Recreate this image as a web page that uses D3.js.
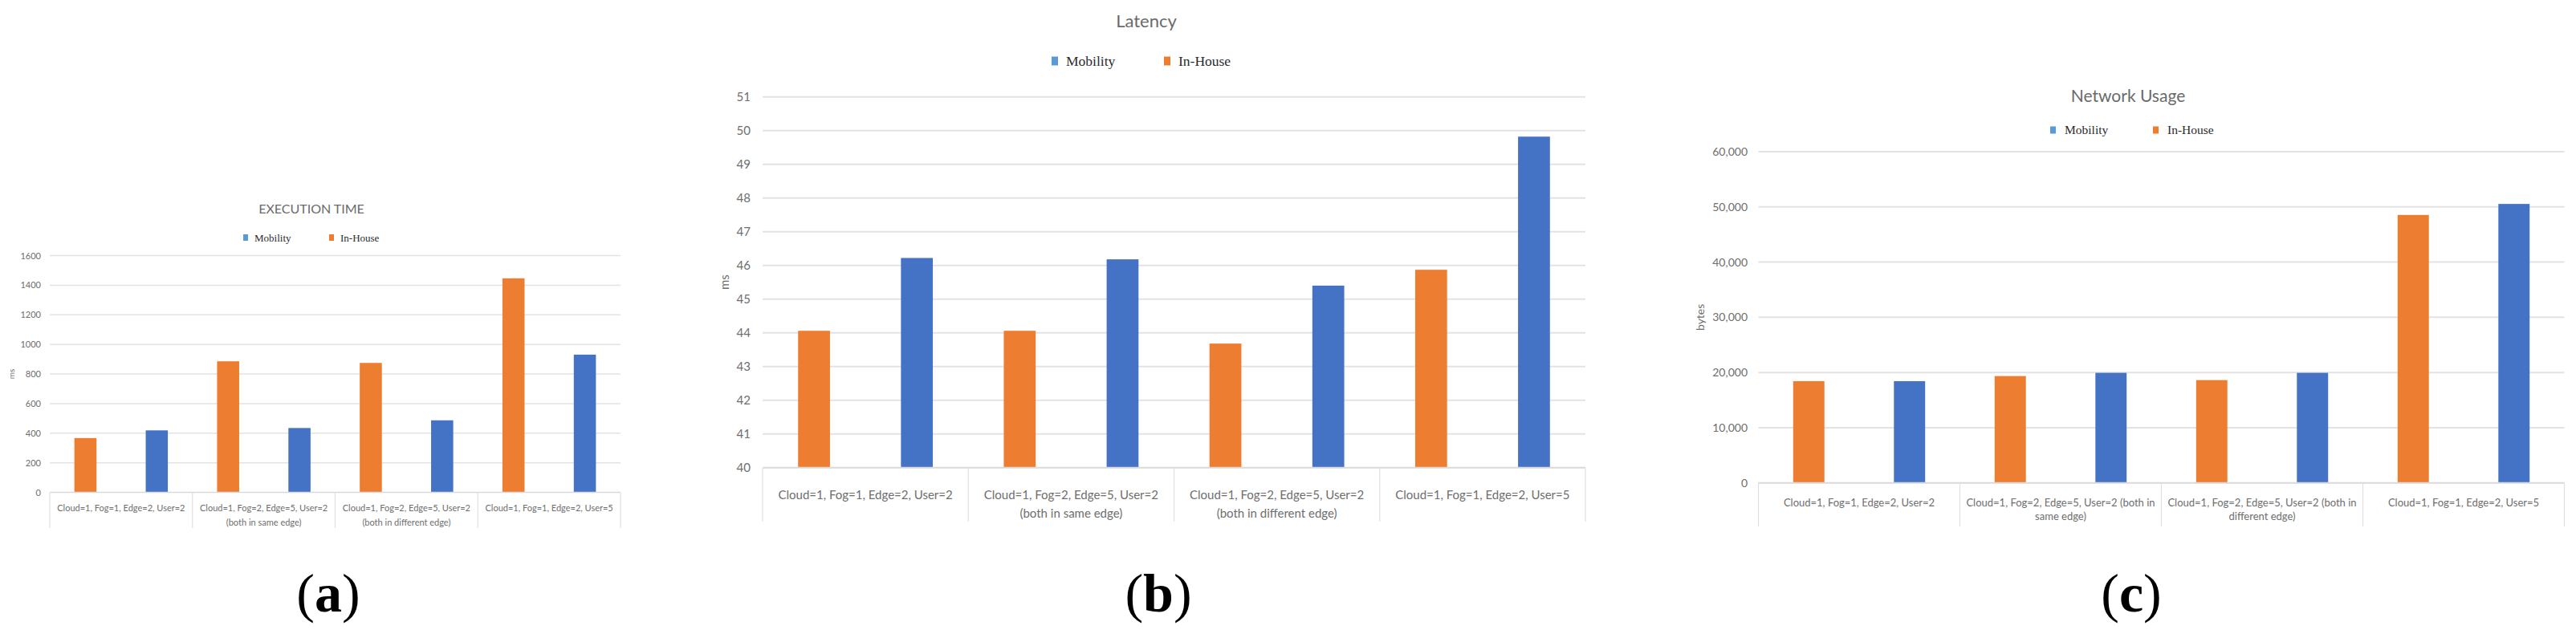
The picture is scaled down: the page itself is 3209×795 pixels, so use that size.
<!DOCTYPE html>
<html>
<head>
<meta charset="utf-8">
<script src="https://cdn.jsdelivr.net/npm/d3@7"></script>
<style>
  body { margin: 0; background: #fff; }
  svg { display: block; }
</style>
</head>
<body>
<svg id="fig" width="3209" height="795"></svg>
<script>
// categories (same four scenarios in each panel)
const categories = [
  "Cloud=1, Fog=1, Edge=2, User=2",
  "Cloud=1, Fog=2, Edge=5, User=2 (both in same edge)",
  "Cloud=1, Fog=2, Edge=5, User=2 (both in different edge)",
  "Cloud=1, Fog=1, Edge=2, User=5"
];
// how the labels wrap in panels a/b and in panel c
const labelLinesAB = [
  ["Cloud=1, Fog=1, Edge=2, User=2"],
  ["Cloud=1, Fog=2, Edge=5, User=2", "(both in same edge)"],
  ["Cloud=1, Fog=2, Edge=5, User=2", "(both in different edge)"],
  ["Cloud=1, Fog=1, Edge=2, User=5"]
];
const labelLinesC = [
  ["Cloud=1, Fog=1, Edge=2, User=2"],
  ["Cloud=1, Fog=2, Edge=5, User=2 (both in", "same edge)"],
  ["Cloud=1, Fog=2, Edge=5, User=2 (both in", "different edge)"],
  ["Cloud=1, Fog=1, Edge=2, User=5"]
];
const barOrder = ["In-House", "Mobility"];
const legendOrder = ["Mobility", "In-House"];

// (a) execution time, ms
const execInHouse = [367, 886, 875, 1447];
const execMobility = [419, 435, 487, 931];
const execTicks = [0, 200, 400, 600, 800, 1000, 1200, 1400, 1600];

// (b) latency, ms
const latInHouse = [44.06, 44.06, 43.68, 45.87];
const latMobility = [46.22, 46.18, 45.40, 49.82];
const latTicks = [40, 41, 42, 43, 44, 45, 46, 47, 48, 49, 50, 51];

// (c) network usage, bytes
const netInHouse = [18430, 19350, 18620, 48540];
const netMobility = [18430, 19930, 19930, 50530];
const netTicks = [0, 10000, 20000, 30000, 40000, 50000, 60000];

const barColor = {"In-House": "#ED7D31", "Mobility": "#4472C4"};
const keyColor = {"In-House": "#ED7D31", "Mobility": "#5B9BD5"};
const SANS = "Lato, 'Open Sans', sans-serif";
const SERIF = "'Liberation Serif', 'DejaVu Serif', serif";

const svg = d3.select("#fig");
svg.append("rect").attr("width", 3209).attr("height", 795).attr("fill", "#fff");

function drawPanel(p) {
    let g = svg.append("g");

    let x0 = d3.scaleBand().domain(categories).range([p.left, p.right]);
    let x1 = d3.scalePoint().domain(barOrder).range([0, x0.bandwidth()]).padding(0.5);
    let y = d3.scaleLinear().domain([p.ticks[0], p.ticks[p.ticks.length - 1]]).range([p.bottom, p.top]);
    let barW = x0.bandwidth() * 0.155;

    // gridlines
    g.selectAll("line.grid")
        .data(p.ticks.slice(1))
        .join("line")
        .attr("x1", p.left).attr("x2", p.right)
        .attr("y1", d => y(d)).attr("y2", d => y(d))
        .attr("stroke", "#e3e3e3")
        .attr("stroke-width", p.gridW);

    // y axis labels
    let yAxis = d3.axisLeft(y).tickValues(p.ticks).tickSize(0).tickPadding(0).tickFormat(p.fmt);
    g.append("g")
        .attr("transform", `translate(${p.tickX},0)`)
        .call(yAxis)
        .call(a => a.select(".domain").remove())
        .selectAll("text")
        .attr("fill", "#6e6e6e")
        .attr("font-family", SANS)
        .attr("font-size", p.tickFont);

    // bars
    let rows = categories.map((c, i) => ({cat: c, "In-House": p.inHouse[i], "Mobility": p.mobility[i]}));
    g.selectAll("g.grp")
        .data(rows)
        .join("g")
        .attr("transform", d => `translate(${x0(d.cat)},0)`)
        .selectAll("rect")
        .data(d => barOrder.map(s => ({s: s, v: d[s]})))
        .join("rect")
        .attr("x", d => x1(d.s) - barW / 2)
        .attr("width", barW)
        .attr("y", d => y(d.v))
        .attr("height", d => y(p.ticks[0]) - y(d.v))
        .attr("fill", d => barColor[d.s]);

    // category axis: baseline and separators
    g.append("line")
        .attr("x1", p.left).attr("x2", p.right)
        .attr("y1", p.bottom).attr("y2", p.bottom)
        .attr("stroke", "#d9d9d9").attr("stroke-width", p.gridW);
    let edges = categories.map(c => x0(c)).concat([p.right]);
    g.selectAll("line.sep")
        .data(edges)
        .join("line")
        .attr("x1", d => d).attr("x2", d => d)
        .attr("y1", p.bottom).attr("y2", p.sepBottom)
        .attr("stroke", "#e0e0e0").attr("stroke-width", 1.2);

    g.selectAll("text.xl")
        .data(categories)
        .join("text")
        .attr("x", d => x0(d) + x0.bandwidth() / 2)
        .attr("text-anchor", "middle")
        .attr("font-family", SANS)
        .attr("font-size", p.xFont)
        .attr("fill", "#6e6e6e")
        .each(function(d, i) {
            d3.select(this).selectAll("tspan")
                .data(p.lines[i])
                .join("tspan")
                .attr("x", x0(d) + x0.bandwidth() / 2)
                .attr("y", (t, j) => p.xRow + j * p.xGap)
                .attr("dy", "0.35em")
                .text(t => t);
        });

    // axis title
    g.append("text")
        .attr("transform", `translate(${p.yTitleX},${(p.top + p.bottom) / 2}) rotate(-90)`)
        .attr("text-anchor", "middle")
        .attr("dy", "0.35em")
        .attr("font-family", SANS)
        .attr("font-size", p.yTitleFont)
        .attr("fill", "#6e6e6e")
        .text(p.yTitle);

    // chart title
    g.append("text")
        .attr("x", p.cx).attr("y", p.titleY)
        .attr("dy", "0.35em")
        .attr("text-anchor", "middle")
        .attr("font-family", SANS)
        .attr("font-size", p.titleFont)
        .attr("fill", "#6a6a6a")
        .text(p.title);

    // legend
    let leg = g.selectAll("g.leg")
        .data(legendOrder)
        .join("g")
        .attr("transform", (d, i) => `translate(${p.legX + i * p.legStep},${p.legY})`);
    leg.append("rect")
        .attr("x", 0).attr("y", -p.keyH / 2)
        .attr("width", p.keyW).attr("height", p.keyH)
        .attr("fill", d => keyColor[d]);
    leg.append("text")
        .attr("x", p.legText)
        .attr("dy", "0.35em")
        .attr("font-family", SERIF)
        .attr("font-size", p.legFont)
        .attr("fill", "#2b2b2b")
        .text(d => d);

    // sub-figure caption
    let cap = g.append("text")
        .attr("x", p.capX).attr("y", 762)
        .attr("text-anchor", "middle")
        .attr("font-family", SERIF)
        .attr("font-size", 68)
        .attr("fill", "#000");
    cap.append("tspan").text("(");
    cap.append("tspan").attr("font-weight", "bold").text(p.cap);
    cap.append("tspan").text(")");
}

drawPanel({
    inHouse: execInHouse, mobility: execMobility, ticks: execTicks, fmt: d3.format("d"),
    left: 62, right: 773, top: 318.6, bottom: 613.5, gridW: 1.5,
    tickX: 51, tickFont: 11, lines: labelLinesAB, xFont: 11, xRow: 633, xGap: 18, sepBottom: 658,
    yTitle: "ms", yTitleX: 14, yTitleFont: 10,
    title: "EXECUTION TIME", cx: 388, titleY: 260, titleFont: 16,
    legX: 303, legY: 296, legStep: 107, legText: 14, keyW: 6, keyH: 8, legFont: 13,
    capX: 409, cap: "a"
});

drawPanel({
    inHouse: latInHouse, mobility: latMobility, ticks: latTicks, fmt: d3.format("d"),
    left: 950, right: 1975, top: 120.7, bottom: 582.7, gridW: 2,
    tickX: 935, tickFont: 15, lines: labelLinesAB, xFont: 15, xRow: 617, xGap: 23, sepBottom: 650,
    yTitle: "ms", yTitleX: 903, yTitleFont: 15,
    title: "Latency", cx: 1428, titleY: 26, titleFont: 22,
    legX: 1310, legY: 76, legStep: 140, legText: 18, keyW: 8, keyH: 11, legFont: 17.5,
    capX: 1443, cap: "b"
});

drawPanel({
    inHouse: netInHouse, mobility: netMobility, ticks: netTicks, fmt: d3.format(","),
    left: 2190.5, right: 3194.5, top: 189, bottom: 601.7, gridW: 2,
    tickX: 2177, tickFont: 14, lines: labelLinesC, xFont: 13, xRow: 626, xGap: 17.5, sepBottom: 656,
    yTitle: "bytes", yTitleX: 2118, yTitleFont: 14,
    title: "Network Usage", cx: 2651, titleY: 120, titleFont: 21,
    legX: 2554, legY: 162, legStep: 128, legText: 18, keyW: 7, keyH: 9, legFont: 15.5,
    capX: 2655, cap: "c"
});
</script>
</body>
</html>
